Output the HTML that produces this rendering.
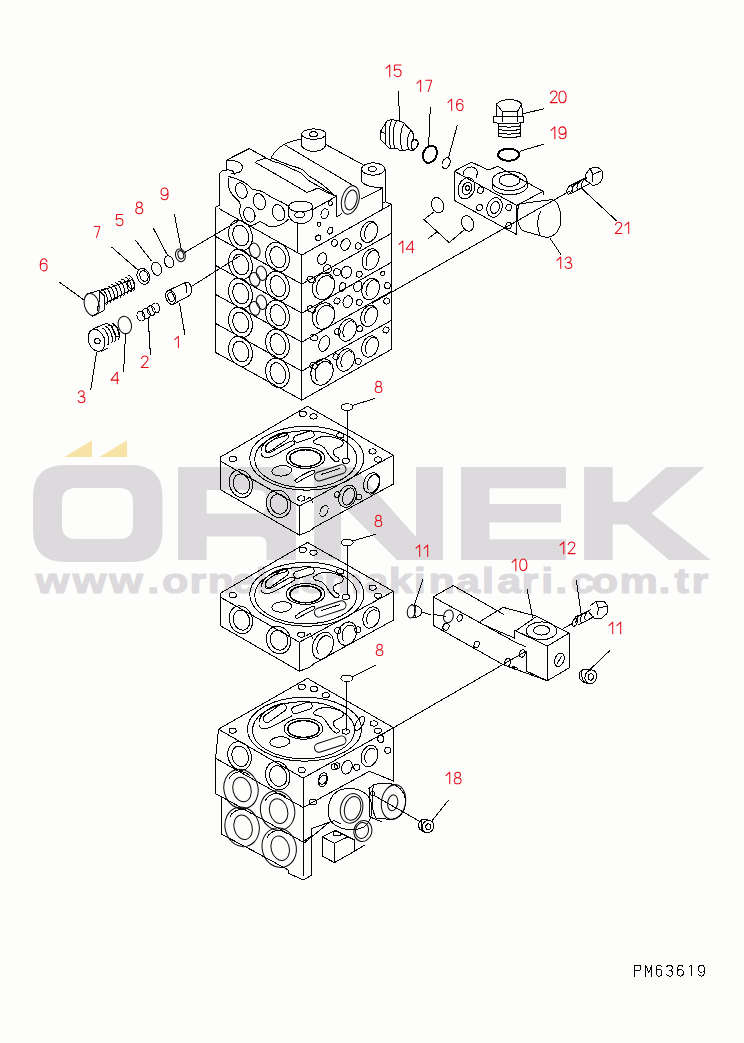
<!DOCTYPE html>
<html><head><meta charset="utf-8">
<style>
html,body{margin:0;padding:0;background:#fdfefc;}
svg{display:block;}
.lb{font-family:"Liberation Sans",sans-serif;font-size:16px;fill:#e0141e;}
.wm{font-family:"Liberation Sans",sans-serif;font-weight:bold;font-size:34.5px;fill:#dcdadd;stroke:#dcdadd;stroke-width:1.2;}
.d{fill:none;stroke:#000;stroke-width:1;shape-rendering:crispEdges;stroke-linejoin:round;stroke-linecap:round;}
.t{fill:none;stroke:#000;stroke-width:2;}
.lbp{shape-rendering:geometricPrecision;fill:none;stroke:#e30613;stroke-width:1.05;stroke-linecap:round;stroke-linejoin:round;}
.t2{fill:none;stroke:#000;stroke-width:1.5;}
</style></head>
<body>
<svg width="744" height="1043" viewBox="0 0 744 1043">
<!-- watermark -->
<g fill="#dcdadd">
<path fill-rule="evenodd" d="M65,465 H130.5 Q162.5,465 162.5,497 V530 Q162.5,562 130.5,562 H65 Q33,562 33,530 V497 Q33,465 65,465 Z M76,488 H119 Q133,488 133,502 V525 Q133,539 119,539 H76 Q62,539 62,525 V502 Q62,488 76,488 Z"/>
<path fill-rule="evenodd" d="M178,467 H276 Q296,467 296,487 V560 H266.5 V544.5 Q266.5,536.5 258.5,536.5 H206.7 V560 H178 Z M206.7,490 H258 Q266,490 266,498 V505.6 Q266,513.6 258,513.6 H206.7 Z"/>
<path d="M314,467 H354 L416,537 V467 H443 V560 H397 L341,504 V560 H314 Z"/>
<path d="M461,467 H566 V488.3 H489.5 V504 H561 V522.5 H489.5 V539.3 H566 V560 H461 Z"/>
<path d="M584.1,467 H612.7 V501.8 H627.5 L666.4,467 H704.7 L651.7,513.5 L710.7,560 H668.8 L627.5,524.6 H612.7 V560 H584.1 Z"/>
</g>
<g fill="#f7e3a6">
<path d="M64.4,457 L92,440.2 V457 Z"/>
<path d="M99.3,457 L127,440.2 V457 Z"/>
</g>
<g transform="scale(1.25,1)"><text class="wm" x="28.54 58.22 87.5 117.86 129.57 151.53 166.17 185.65 204.59 230.99 240.99 259.13 291.59 310.99 330.99 342.81 364.79 385.63 397.75 417.13 432.91 444.18 456.61 473.41 495.53 526.9 539.54 553.21" y="592.9">www.ornekismakinalari.com.tr</text></g>


<!-- drawing -->
<g class="d" id="drawing">
<!-- /workdir/parts/a_head.py -->
<polyline points="219.1,205.4 219.1,174"/>
<polyline points="226.1,160.3 249.3,148.6 269.4,159.8"/>
<path d="M226.1,160.3 V170 M226.1,160.3 C236,159.5 243,163 242.5,168 C242,172 237,173.5 231,173.2"/>
<path d="M219.4,174.5 C220,171 224,169.8 229,170 C233,170.3 235,172 234,175"/>
<path d="M266.1,158.2 L257.3,160.8 C255,161.5 255.5,163.5 258,163.9 L306.5,192.1 C310,193 314,189 317.7,188.1 L335.5,196.1"/>
<path d="M270.2,160.6 C272,155 276,149 283.9,144.5 C290,141.5 296,140 301.6,138.9"/>
<path d="M272.6,158.2 C278,161 284,163 289,165 C295,167 300,168 303,170 C306,172 308,176 312,178 C318,181 326,187 335.5,196.1"/>
<path d="M270.2,160.6 C276,162 281,163.5 286,166 C292,169 297,171 300,172.5 C303,174 305,177 308,180 C314,184 324,189 332,194"/>
<polyline points="285.5,145.3 354.8,186.5"/>
<polyline points="325.8,144.5 362.9,164.7"/>
<ellipse cx="313.8" cy="134.1" rx="12.1" ry="5.2"/>
<ellipse cx="313.5" cy="134.2" rx="4" ry="2.4"/>
<path d="M301.7,134.1 V146 C304,150 310,151.5 314,151.3 C319,151.2 324,149 325.9,145.5 V134.1"/>
<ellipse cx="373.1" cy="169" rx="11.5" ry="6.2"/>
<ellipse cx="372.3" cy="169" rx="4" ry="2.4"/>
<path d="M361.6,169 V181.5 C364,185 372,187.5 382.7,187.9 M385.3,169 V201.7"/>
<polyline points="385.3,201.7 391.3,204.4"/>
<polyline points="382.5,188.5 382.5,209.8"/>
<polyline points="382.5,203.5 385.3,201.7"/>
<path d="M336.8,195.2 V217 L341.6,213.7"/>
<ellipse cx="350.3" cy="200" rx="8.6" ry="14.5" transform="rotate(15 350.3 200)"/>
<ellipse cx="351" cy="200" rx="5.8" ry="10.2" transform="rotate(15 351 200)"/>
<polyline points="312.6,209.7 336.8,196"/>
<polyline points="361,199.2 382.7,187.9"/>
<polyline points="297.4,222.2 297.4,253"/>
<ellipse cx="324.7" cy="213.7" rx="3.5" ry="5" transform="rotate(20 324.7 213.7)"/>
<ellipse cx="330.3" cy="203.2" rx="2" ry="2.4"/>
<ellipse cx="319" cy="224.2" rx="2" ry="2.2"/>
<ellipse cx="330.3" cy="230.6" rx="2.5" ry="3.5" transform="rotate(20 330.3 230.6)"/>
<ellipse cx="318.2" cy="237.9" rx="2.5" ry="3"/>
<ellipse cx="300.7" cy="206.5" rx="12" ry="5.5"/>
<path d="M288.7,206.5 V216 C291,221 296,223.5 300.7,223.5 C306,223.5 310.5,221 312.7,216 V206.5"/>
<ellipse cx="299.7" cy="214.8" rx="5" ry="3"/>
<ellipse cx="241.3" cy="190.6" rx="5.6" ry="8" transform="rotate(-20 241.3 190.6)"/>
<ellipse cx="259.4" cy="201.7" rx="5.8" ry="8.2" transform="rotate(-20 259.4 201.7)"/>
<ellipse cx="278.5" cy="212.7" rx="6" ry="8.3" transform="rotate(-20 278.5 212.7)"/>
<ellipse cx="249.3" cy="214.8" rx="5.5" ry="7.5" transform="rotate(-20 249.3 214.8)"/>
<path d="M228.1,176.5 C232,177 235,178 238.2,179.5 C242,181 245,182.5 247.3,184.5 C250,187 251,189 253.3,189.6 C257,190 260,190.5 262.4,191.6 C266,193.5 268,195.5 270.5,196.6 C273,198 274.5,199 276.5,199.6 C280,201 283,202.5 288.7,206.5"/>
<path d="M228.1,178.5 C228,182 228.5,186 229.2,188.5 C230.5,193 233,196 236.2,198.6 C238.5,200.5 240,202 240.2,204.7 C240,208 239.5,212 240.2,214.8 C241,218 242.5,220.5 244.3,222.8 C248,226 253,226 257,223 C260,221 262,221.5 264,223.5 C268,227 274,227.5 279,225.5 C283,224 286,222 288.7,219"/>
<!-- /workdir/parts/a_stack.py -->
<polyline points="219.1,208.70000000000002 301.8,255.1 391.3,204.4"/>
<polyline points="215.5,236.4 301.8,284.1 391.3,233.4"/>
<polyline points="215.5,265.4 301.8,313.1 391.3,262.4"/>
<polyline points="215.5,294.4 301.8,342.1 391.3,291.4"/>
<polyline points="215.5,323.4 301.8,371.1 391.3,320.4"/>
<polyline points="215.5,352.4 301.8,400.1 391.3,349.4"/>
<polyline points="215.5,207.4 215.5,352.4"/>
<polyline points="301.8,255.1 301.8,400.1"/>
<polyline points="391.3,204.4 391.3,349.4"/>
<polyline points="215.5,207.4 219.1,205.4"/>
<ellipse cx="240.5" cy="235.2" rx="11.5" ry="15.5" transform="rotate(-18 240.5 235.2)"/>
<ellipse cx="240.8" cy="235.5" rx="7.8" ry="10.5" transform="rotate(-18 240.8 235.5)"/>
<ellipse cx="277.5" cy="257.0" rx="11.5" ry="15" transform="rotate(-18 277.5 257.0)"/>
<ellipse cx="277.8" cy="257.3" rx="7.5" ry="10.8" transform="rotate(-18 277.8 257.3)"/>
<ellipse cx="240.5" cy="264.2" rx="11.5" ry="15.5" transform="rotate(-18 240.5 264.2)"/>
<ellipse cx="240.8" cy="264.5" rx="7.8" ry="10.5" transform="rotate(-18 240.8 264.5)"/>
<ellipse cx="277.5" cy="286.0" rx="11.5" ry="15" transform="rotate(-18 277.5 286.0)"/>
<ellipse cx="277.8" cy="286.3" rx="7.5" ry="10.8" transform="rotate(-18 277.8 286.3)"/>
<ellipse cx="240.5" cy="293.2" rx="11.5" ry="15.5" transform="rotate(-18 240.5 293.2)"/>
<ellipse cx="240.8" cy="293.5" rx="7.8" ry="10.5" transform="rotate(-18 240.8 293.5)"/>
<ellipse cx="277.5" cy="315.0" rx="11.5" ry="15" transform="rotate(-18 277.5 315.0)"/>
<ellipse cx="277.8" cy="315.3" rx="7.5" ry="10.8" transform="rotate(-18 277.8 315.3)"/>
<ellipse cx="240.5" cy="322.2" rx="11.5" ry="15.5" transform="rotate(-18 240.5 322.2)"/>
<ellipse cx="240.8" cy="322.5" rx="7.8" ry="10.5" transform="rotate(-18 240.8 322.5)"/>
<ellipse cx="277.5" cy="344.0" rx="11.5" ry="15" transform="rotate(-18 277.5 344.0)"/>
<ellipse cx="277.8" cy="344.3" rx="7.5" ry="10.8" transform="rotate(-18 277.8 344.3)"/>
<ellipse cx="240.5" cy="351.2" rx="11.5" ry="15.5" transform="rotate(-18 240.5 351.2)"/>
<ellipse cx="240.8" cy="351.5" rx="7.8" ry="10.5" transform="rotate(-18 240.8 351.5)"/>
<ellipse cx="277.5" cy="373.0" rx="11.5" ry="15" transform="rotate(-18 277.5 373.0)"/>
<ellipse cx="277.8" cy="373.3" rx="7.5" ry="10.8" transform="rotate(-18 277.8 373.3)"/>
<ellipse cx="254.7" cy="250.4" rx="5.2" ry="7.5" transform="rotate(-15 254.7 250.4)"/>
<ellipse cx="254.7" cy="279.4" rx="5" ry="7" transform="rotate(-15 254.7 279.4)"/>
<ellipse cx="261.5" cy="273.3" rx="5" ry="7.3" transform="rotate(-15 261.5 273.3)"/>
<ellipse cx="254.7" cy="308.4" rx="5" ry="7" transform="rotate(-15 254.7 308.4)"/>
<ellipse cx="261.5" cy="302.3" rx="5" ry="7.3" transform="rotate(-15 261.5 302.3)"/>
<ellipse cx="369.1" cy="231.8" rx="8" ry="11" transform="rotate(22 369.1 231.8)"/>
<polyline points="365.69,238.44 365.07,237.37 364.67,236.06 364.49,234.57 364.55,232.96 364.85,231.28 365.36,229.61 366.07,227.99 366.96,226.51 367.99,225.21 369.12,224.14 370.3,223.35 371.5,222.87 372.66,222.7 373.75,222.87 374.71,223.37 375.51,224.16"/>
<ellipse cx="370.6" cy="259.4" rx="8" ry="11" transform="rotate(22 370.6 259.4)"/>
<polyline points="367.19,266.04 366.57,264.97 366.17,263.66 365.99,262.17 366.05,260.56 366.35,258.88 366.86,257.21 367.57,255.59 368.46,254.11 369.49,252.81 370.62,251.74 371.8,250.95 373.0,250.47 374.16,250.3 375.25,250.47 376.21,250.97 377.01,251.76"/>
<ellipse cx="370.6" cy="289" rx="8.5" ry="11" transform="rotate(22 370.6 289)"/>
<polyline points="367.19,295.64 366.57,294.57 366.17,293.26 365.99,291.77 366.05,290.16 366.35,288.48 366.86,286.81 367.57,285.19 368.46,283.71 369.49,282.41 370.62,281.34 371.8,280.55 373.0,280.07 374.16,279.9 375.25,280.07 376.21,280.57 377.01,281.36"/>
<ellipse cx="369.2" cy="316" rx="8" ry="11" transform="rotate(22 369.2 316)"/>
<polyline points="365.79,322.64 365.17,321.57 364.77,320.26 364.59,318.77 364.65,317.16 364.95,315.48 365.46,313.81 366.17,312.19 367.06,310.71 368.09,309.41 369.22,308.34 370.4,307.55 371.6,307.07 372.76,306.9 373.85,307.07 374.81,307.57 375.61,308.36"/>
<ellipse cx="370" cy="346.5" rx="8" ry="11" transform="rotate(22 370 346.5)"/>
<polyline points="366.59,353.14 365.97,352.07 365.57,350.76 365.39,349.27 365.45,347.66 365.75,345.98 366.26,344.31 366.97,342.69 367.86,341.21 368.89,339.91 370.02,338.84 371.2,338.05 372.4,337.57 373.56,337.4 374.65,337.57 375.61,338.07 376.41,338.86"/>
<ellipse cx="347.5" cy="330" rx="8.5" ry="11.5" transform="rotate(22 347.5 330)"/>
<polyline points="344.09,336.64 343.47,335.57 343.07,334.26 342.89,332.77 342.95,331.16 343.25,329.48 343.76,327.81 344.47,326.19 345.36,324.71 346.39,323.41 347.52,322.34 348.7,321.55 349.9,321.07 351.06,320.9 352.15,321.07 353.11,321.57 353.91,322.36"/>
<ellipse cx="345.5" cy="360" rx="8.5" ry="11.5" transform="rotate(22 345.5 360)"/>
<polyline points="342.09,366.64 341.47,365.57 341.07,364.26 340.89,362.77 340.95,361.16 341.25,359.48 341.76,357.81 342.47,356.19 343.36,354.71 344.39,353.41 345.52,352.34 346.7,351.55 347.9,351.07 349.06,350.9 350.15,351.07 351.11,351.57 351.91,352.36"/>
<ellipse cx="323.5" cy="286.3" rx="10.8" ry="13.5" transform="rotate(22 323.5 286.3)"/>
<polyline points="318.59,294.86 317.68,293.56 317.02,292.01 316.63,290.28 316.52,288.4 316.7,286.46 317.15,284.51 317.88,282.62 318.84,280.85 320.02,279.27 321.36,277.93 322.83,276.87 324.37,276.13 325.93,275.74 327.46,275.7 328.9,276.02 330.22,276.69 331.35,277.68 332.28,278.97"/>
<ellipse cx="323.5" cy="316" rx="10.8" ry="13.5" transform="rotate(22 323.5 316)"/>
<polyline points="318.59,324.56 317.68,323.26 317.02,321.71 316.63,319.98 316.52,318.1 316.7,316.16 317.15,314.21 317.88,312.32 318.84,310.55 320.02,308.97 321.36,307.63 322.83,306.57 324.37,305.83 325.93,305.44 327.46,305.4 328.9,305.72 330.22,306.39 331.35,307.38 332.28,308.67"/>
<ellipse cx="322" cy="372" rx="10.8" ry="13.5" transform="rotate(22 322 372)"/>
<polyline points="317.09,380.56 316.18,379.26 315.52,377.71 315.13,375.98 315.02,374.1 315.2,372.16 315.65,370.21 316.38,368.32 317.34,366.55 318.52,364.97 319.86,363.63 321.33,362.57 322.87,361.83 324.43,361.44 325.96,361.4 327.4,361.72 328.72,362.39 329.85,363.38 330.78,364.67"/>
<ellipse cx="334.5" cy="243" rx="3" ry="3.3" transform="rotate(20 334.5 243)"/>
<ellipse cx="345.5" cy="244.5" rx="4.5" ry="6" transform="rotate(20 345.5 244.5)"/>
<ellipse cx="358.2" cy="246" rx="3" ry="3.2" transform="rotate(20 358.2 246)"/>
<ellipse cx="322.2" cy="258.7" rx="4.4" ry="6" transform="rotate(20 322.2 258.7)"/>
<ellipse cx="327.6" cy="268.8" rx="4" ry="4" transform="rotate(20 327.6 268.8)"/>
<ellipse cx="337" cy="272.2" rx="3.5" ry="3.5" transform="rotate(20 337 272.2)"/>
<ellipse cx="346.4" cy="272.2" rx="5" ry="6" transform="rotate(20 346.4 272.2)"/>
<ellipse cx="359.2" cy="274.2" rx="3" ry="3" transform="rotate(20 359.2 274.2)"/>
<ellipse cx="382.7" cy="273.5" rx="2" ry="2.2" transform="rotate(20 382.7 273.5)"/>
<ellipse cx="387.4" cy="285.6" rx="3" ry="3" transform="rotate(20 387.4 285.6)"/>
<ellipse cx="311.4" cy="279.6" rx="4.5" ry="3" transform="rotate(20 311.4 279.6)"/>
<ellipse cx="342.4" cy="287" rx="3" ry="4.5" transform="rotate(20 342.4 287)"/>
<ellipse cx="357.8" cy="286.3" rx="4" ry="5.5" transform="rotate(20 357.8 286.3)"/>
<ellipse cx="337" cy="301" rx="3" ry="3" transform="rotate(20 337 301)"/>
<ellipse cx="347.7" cy="301.7" rx="4.5" ry="6" transform="rotate(20 347.7 301.7)"/>
<ellipse cx="359.2" cy="302.4" rx="3" ry="3" transform="rotate(20 359.2 302.4)"/>
<ellipse cx="386.7" cy="301" rx="3" ry="3" transform="rotate(20 386.7 301)"/>
<ellipse cx="311.4" cy="309.1" rx="4.5" ry="3" transform="rotate(20 311.4 309.1)"/>
<ellipse cx="337.5" cy="331.8" rx="3" ry="3" transform="rotate(20 337.5 331.8)"/>
<ellipse cx="324.2" cy="343.6" rx="5" ry="8" transform="rotate(20 324.2 343.6)"/>
<ellipse cx="313.8" cy="337.7" rx="4" ry="3" transform="rotate(20 313.8 337.7)"/>
<ellipse cx="359.7" cy="328.8" rx="3" ry="3" transform="rotate(20 359.7 328.8)"/>
<ellipse cx="313.8" cy="365.8" rx="4" ry="3" transform="rotate(20 313.8 365.8)"/>
<ellipse cx="336" cy="356.9" rx="3" ry="3" transform="rotate(20 336 356.9)"/>
<ellipse cx="358.2" cy="361.3" rx="3" ry="3" transform="rotate(20 358.2 361.3)"/>
<ellipse cx="386" cy="330" rx="3" ry="3" transform="rotate(20 386 330)"/>
<!-- /workdir/parts/b_left.py -->
<polyline points="174.4,214.3 181.2,248.9"/>
<polyline points="153.4,228.4 167.5,255.3"/>
<polyline points="135.3,240 151.4,261"/>
<polyline points="111.9,247.3 137.7,269.8"/>
<polyline points="59.7,282.4 83.6,299.7"/>
<polyline points="185,335.4 179.6,303.2"/>
<polyline points="150.4,355 148.2,317.7"/>
<polyline points="123.6,371.5 125.6,333"/>
<polyline points="90.8,389.5 96.5,352.4"/>
<ellipse cx="180.4" cy="255.3" rx="4.8" ry="6.5" transform="rotate(-15 180.4 255.3)"/>
<ellipse cx="180.8" cy="254.8" rx="2.8" ry="4.2" transform="rotate(-15 180.8 254.8)"/>
<polyline points="185.3,252.1 238.6,220.8"/>
<ellipse cx="169.1" cy="261.8" rx="4.5" ry="6.1" transform="rotate(-20 169.1 261.8)"/>
<ellipse cx="156.5" cy="268.7" rx="4.8" ry="6.8" transform="rotate(-20 156.5 268.7)"/>
<ellipse cx="143.3" cy="276.3" rx="6.1" ry="8.1" transform="rotate(-20 143.3 276.3)"/>
<ellipse cx="144" cy="276" rx="4" ry="5.5" transform="rotate(-20 144 276)"/>
<ellipse cx="91.7" cy="304.5" rx="7.3" ry="11.3" transform="rotate(-15 91.7 304.5)"/>
<polyline points="86,294.3 99,290.5 104.5,296 105,306 103.8,310.5 92.5,316"/>
<polyline points="99,290.5 99.5,300 97,311"/>
<polyline points="101,290.8 132.8,279.5"/>
<polyline points="104.8,303.5 133.6,288.6"/>
<polyline points="101.4,289.86 102.4,289.89 103.55,290.62 104.75,291.97 105.88,293.82 106.82,295.97 107.48,298.23 107.81,300.37 107.76,302.17 107.34,303.48 106.6,304.14"/>
<polyline points="104.8,288.11 105.8,288.14 106.95,288.87 108.15,290.22 109.28,292.07 110.22,294.22 110.88,296.48 111.21,298.62 111.16,300.42 110.74,301.73 110.0,302.39"/>
<polyline points="108.2,286.36 109.2,286.39 110.35,287.12 111.55,288.47 112.68,290.32 113.62,292.47 114.28,294.73 114.61,296.87 114.56,298.67 114.14,299.98 113.4,300.64"/>
<polyline points="111.6,284.61 112.6,284.64 113.75,285.37 114.95,286.72 116.08,288.57 117.02,290.72 117.68,292.98 118.01,295.12 117.96,296.92 117.54,298.23 116.8,298.89"/>
<polyline points="115.0,282.86 116.0,282.89 117.15,283.62 118.35,284.97 119.48,286.82 120.42,288.97 121.08,291.23 121.41,293.37 121.36,295.17 120.94,296.48 120.2,297.14"/>
<polyline points="118.4,281.11 119.4,281.14 120.55,281.87 121.75,283.22 122.88,285.07 123.82,287.22 124.48,289.48 124.81,291.62 124.76,293.42 124.34,294.73 123.6,295.39"/>
<polyline points="121.8,279.36 122.8,279.39 123.95,280.12 125.15,281.47 126.28,283.32 127.22,285.47 127.88,287.73 128.21,289.87 128.16,291.67 127.74,292.98 127.0,293.64"/>
<polyline points="125.2,277.61 126.2,277.64 127.35,278.37 128.55,279.72 129.68,281.57 130.62,283.72 131.28,285.98 131.61,288.12 131.56,289.92 131.14,291.23 130.4,291.89"/>
<polyline points="128.6,275.86 129.6,275.89 130.75,276.62 131.95,277.97 133.08,279.82 134.02,281.97 134.68,284.23 135.01,286.37 134.96,288.17 134.54,289.48 133.8,290.14"/>
<ellipse cx="130.8" cy="283.8" rx="3.2" ry="5" transform="rotate(-20 130.8 283.8)"/>
<ellipse cx="170.7" cy="297.3" rx="4.8" ry="7.3" transform="rotate(-20 170.7 297.3)"/>
<ellipse cx="171" cy="297" rx="3" ry="4.8" transform="rotate(-20 171 297)"/>
<polyline points="168.3,290.5 184.5,282.8"/>
<polyline points="173.5,304.2 188.6,296"/>
<path d="M184.5,282.8 C188,281 191,284 191.5,288.5 C192,293 190,296 188.6,296"/>
<path d="M184.5,282.8 C186,284 187.5,289 186.5,293"/>
<polyline points="190.9,286.8 240,255.8"/>
<ellipse cx="140.9" cy="316.1" rx="3.8" ry="5" transform="rotate(-20 140.9 316.1)"/>
<ellipse cx="146.2" cy="313.5" rx="3.8" ry="5" transform="rotate(-20 146.2 313.5)"/>
<ellipse cx="151.2" cy="310.7" rx="3.8" ry="5" transform="rotate(-20 151.2 310.7)"/>
<ellipse cx="155.8" cy="307.9" rx="3.8" ry="5" transform="rotate(-20 155.8 307.9)"/>
<ellipse cx="124.8" cy="325" rx="6.6" ry="8.9" transform="rotate(-15 124.8 325)"/>
<ellipse cx="96.5" cy="340.3" rx="8" ry="11.3" transform="rotate(-20 96.5 340.3)"/>
<ellipse cx="97.4" cy="341.1" rx="2.8" ry="2.6"/>
<polyline points="92,329.5 103,324.5"/>
<polyline points="101,351.5 108,348"/>
<path d="M103,324.5 C108,322.5 112,325 113,329"/>
<polyline points="102.09,328.51 103.11,328.59 104.31,329.43 105.57,330.98 106.78,333.06 107.82,335.47 108.58,337.99 108.99,340.36 109.01,342.36 108.64,343.78 107.91,344.49"/>
<polyline points="105.49,326.91 106.51,326.99 107.71,327.83 108.97,329.38 110.18,331.46 111.22,333.87 111.98,336.39 112.39,338.76 112.41,340.76 112.04,342.18 111.31,342.89"/>
<polyline points="108.89,325.31 109.91,325.39 111.11,326.23 112.37,327.78 113.58,329.86 114.62,332.27 115.38,334.79 115.79,337.16 115.81,339.16 115.44,340.58 114.71,341.29"/>
<polyline points="112.29,323.71 113.31,323.79 114.51,324.63 115.77,326.18 116.98,328.26 118.02,330.67 118.78,333.19 119.19,335.56 119.21,337.56 118.84,338.98 118.11,339.69"/>
<ellipse cx="116" cy="331" rx="2.5" ry="6" transform="rotate(-20 116 331)"/>
<!-- /workdir/parts/c_topright.py -->
<polyline points="398.4,91.5 399.6,120.3"/>
<polyline points="430.3,107.7 428.7,144.7"/>
<polyline points="457.2,125.5 448.4,158"/>
<polyline points="523.4,113.6 543.5,108.9"/>
<polyline points="520,151.2 543.5,144.2"/>
<polyline points="582,188.7 616.6,220.9"/>
<polygon points="380.4,131.5 387.1,120.8 392.5,119.1 395.2,120.4 399.2,121.1 404.6,123.1 406.3,126.1 411.3,130.2 413.3,134.2 413.3,138.9 417.3,140.9 418.7,143.6 416.7,147.6 413.3,150.3 410,150 406.6,149.7 405.2,150.3 399.2,150.3 397.2,148.3 389.8,148.6 385.8,145 380.4,139.6"/>
<polyline points="380.4,131.5 385.1,133.5 385.8,145"/>
<path d="M387.1,120.8 C385,124 385,129 385.1,133.5"/>
<path d="M392.5,119.1 C389,124 388.5,138 390.5,148.6"/>
<path d="M396.5,120.7 C392.5,127 392,141 395,148.5"/>
<path d="M404.6,123.1 C400,129 399.5,143 402.5,150.3"/>
<path d="M411.3,130.2 C407,135 406.5,145 409,150"/>
<path d="M413.3,138.9 C410.8,141 410.5,147 412.5,150.3"/>
<ellipse cx="414.5" cy="144.2" rx="3.2" ry="5" transform="rotate(20 414.5 144.2)"/>
<ellipse cx="429.9" cy="154.3" rx="6.7" ry="8.9" transform="rotate(25 429.9 154.3)" class="t"/>
<ellipse cx="446.1" cy="163.2" rx="3.7" ry="5.6" transform="rotate(25 446.1 163.2)"/>
<path d="M496.4,116.2 V104 C500,100.5 505,99.6 509.5,99.6 C514,99.6 519,100.5 521.7,104 L522.6,116.2"/>
<polyline points="496.4,104 502.5,111.8 517.3,111.8 521.7,104"/>
<polyline points="502.5,111.8 502.5,121.5"/>
<polyline points="517.3,111.8 517.3,121.5"/>
<path d="M493.7,116.2 H523.4 V122.5 C515,124 501,124 493.7,122.5 Z"/>
<polyline points="498.1,123 498.1,137"/>
<polyline points="520.8,123 520.8,137"/>
<path d="M498.1,125.8 C504,127.3 514,127.3 520.8,125.8"/>
<path d="M498.1,129.3 C504,130.8 514,130.8 520.8,129.3"/>
<path d="M498.1,132.8 C504,134.3 514,134.3 520.8,132.8"/>
<path d="M498.1,136.3 C504,137.8 514,137.8 520.8,136.3"/>
<ellipse cx="508.6" cy="154.7" rx="10.5" ry="6.1" class="t"/>
<polyline points="586,174 590,168.5 597,167 602,170.5 603,177 599.5,183.5 593,185.5 588,182"/>
<polyline points="590,168.5 593,174.5 592.5,181.5"/>
<polyline points="593,174.5 602,170.5"/>
<path d="M586,174 C584,177 585,181 588,182"/>
<polyline points="568.5,186.5 586.5,177.5"/>
<polyline points="571,193.5 589,184"/>
<polyline points="573.39,192.53 572.85,192.09 572.49,191.38 572.34,190.43 572.4,189.31 572.68,188.11 573.14,186.9 573.77,185.77 574.52,184.78 575.33,184.02 576.15,183.53 576.93,183.34 577.61,183.47"/>
<polyline points="577.99,190.03 577.45,189.59 577.09,188.88 576.94,187.93 577.0,186.81 577.28,185.61 577.74,184.4 578.37,183.27 579.12,182.28 579.93,181.52 580.75,181.03 581.53,180.84 582.21,180.97"/>
<polyline points="582.59,187.53 582.05,187.09 581.69,186.38 581.54,185.43 581.6,184.31 581.88,183.11 582.34,181.9 582.97,180.77 583.72,179.78 584.53,179.02 585.35,178.53 586.13,178.34 586.81,178.47"/>
<ellipse cx="569.6" cy="190" rx="2.3" ry="4.3" transform="rotate(25 569.6 190)"/>
<polyline points="569,191.5 372,303.3"/>
<polyline points="454.3,171.2 471.4,162.1 486.5,169.2 491,169.2 497.6,166.1 502.7,169.2"/>
<polyline points="454.3,171.2 516.8,205.4 543,191.3 543,195"/>
<polyline points="454.3,171.2 454.3,200.4 516.8,234.7 516.8,205.4"/>
<polyline points="502.7,169.2 543,191.3"/>
<path d="M463,175.5 C463,168 470,166 474,167.5 C477,169 478,173 476,178"/>
<ellipse cx="509.5" cy="180.9" rx="17.5" ry="9.6"/>
<ellipse cx="509.5" cy="180.3" rx="10.5" ry="6.1"/>
<path d="M492,180.9 V187.9 C496,193 503,194.8 509.5,194.8 C516,194.8 523,193 527,187.9 V180.9"/>
<ellipse cx="466.4" cy="188.3" rx="8" ry="11" transform="rotate(20 466.4 188.3)"/>
<ellipse cx="467" cy="188.5" rx="4.5" ry="6.5" transform="rotate(20 467 188.5)"/>
<ellipse cx="467.5" cy="188" rx="1.8" ry="2.5"/>
<ellipse cx="494.6" cy="207.5" rx="7.5" ry="10" transform="rotate(20 494.6 207.5)"/>
<ellipse cx="495" cy="207.5" rx="4.2" ry="6.2" transform="rotate(20 495 207.5)"/>
<ellipse cx="480.5" cy="190.3" rx="2.8" ry="3.3" transform="rotate(20 480.5 190.3)"/>
<ellipse cx="479.5" cy="207.5" rx="2.8" ry="3.3" transform="rotate(20 479.5 207.5)"/>
<ellipse cx="508.7" cy="207.5" rx="2.8" ry="3.3" transform="rotate(20 508.7 207.5)"/>
<ellipse cx="508.7" cy="225.6" rx="2.8" ry="3.3" transform="rotate(20 508.7 225.6)"/>
<polyline points="519.5,203.8 551.7,199.6"/>
<polyline points="522.2,230.6 546.3,237.4"/>
<path d="M551.7,199.6 C557,200 561,209 561,218.6 C561,228 556,237 546.3,237.4"/>
<path d="M541,211 C537,217 537,228 539.5,234"/>
<path d="M519.5,203.8 C516,212 516.5,224 522.2,230.6"/>
<polyline points="549.9,238 560.6,254.2"/>
<ellipse cx="437.6" cy="205.2" rx="5.8" ry="8" transform="rotate(-20 437.6 205.2)"/>
<ellipse cx="467.6" cy="223.4" rx="5.8" ry="8" transform="rotate(-20 467.6 223.4)"/>
<polyline points="433.1,212.5 424,219.6 449.2,242.7 464.4,229.6"/>
<polyline points="428.1,238.7 437.1,231.7"/>
<!-- /workdir/parts/d_plates.py -->
<polyline points="220.3,457.2 307.5,406.3 393.4,455.2 299.4,506.1 220.8,461.3 220.3,457.2"/>
<polyline points="220.3,457.2 220.3,489.6"/>
<polyline points="220.3,489.6 299.4,535.1 310,531 314,527.6 393.4,484"/>
<polyline points="393.4,455.2 393.4,484"/>
<polyline points="299.4,506.1 299.4,535.1"/>
<path d="M249.8,458.2 A57,32 0 0 1 363.8,458.2 A57,32 0 0 1 249.8,458.2"/>
<ellipse cx="305.8" cy="459.2" rx="51" ry="28.5"/>
<ellipse cx="305.5" cy="458.2" rx="15.7" ry="8.5" class="t2"/>
<ellipse cx="305.5" cy="457.9" rx="19.4" ry="10.5"/>
<rect x="263.44671109562586" y="438.2" width="26.606577808748213" height="7.6" rx="3.8" transform="rotate(-35.36246188706905 276.75 442.0)"/>
<path d="M284,432.3 C273,435 262,442 261,451 C260,459 268,459 277,454 C284,450 290,447 294,444.5 C296,442 293,440 290,441.5 C285,444 278,448 272,451.5 C267,454 264.5,452 265.5,448 C267,442 276,438 284.5,436 C288,435 288,431.5 284,432.3 Z"/>
<rect x="293.5536506078056" y="433.04999999999995" width="20.892698784388713" height="7.2" rx="3.6" transform="rotate(-18.302626241748225 304.0 436.65)"/>
<path d="M313.5,441 C317,438 321,436.5 324,436.1 C330,436 337,438 341.8,440.2 C344,442 344,445 341,446.5 C337,448 333,449 333.2,452 C333.5,455 336,457 338.5,457.9 C340,459.5 339,462 336.5,461.9 C333,461 331,458 327.3,452.3 C325,448 323,446 320,445 C317,444.8 313,443.5 313.5,441 Z"/>
<rect x="313.9227010691367" y="468.35" width="32.654597861726586" height="9.0" rx="4.5" transform="rotate(-17.975366865392072 330.25 472.85)"/>
<path d="M321,474.5 L340,468.5"/>
<ellipse cx="281.8" cy="470.8" rx="10" ry="5.2" transform="rotate(-5 281.8 470.8)"/>
<path d="M296,479.5 C300,476 306,473 312,470.5 C315,469.5 316,472 313,474 C309,476 303,479 298,482 C295,482.5 294,481 296,479.5 Z"/>
<ellipse cx="302.7" cy="413.8" rx="3.6" ry="2.6"/>
<ellipse cx="313.5" cy="416.5" rx="3.6" ry="2.6"/>
<ellipse cx="232.8" cy="459" rx="3.6" ry="2.6"/>
<ellipse cx="372.6" cy="451.5" rx="3.6" ry="2.6"/>
<ellipse cx="378" cy="459.5" rx="3.6" ry="2.6"/>
<ellipse cx="301.4" cy="498.5" rx="3.6" ry="2.6"/>
<ellipse cx="340.4" cy="435.3" rx="3.6" ry="2.6"/>
<ellipse cx="345.8" cy="460.9" rx="3.6" ry="2.6"/>
<ellipse cx="240.9" cy="483.7" rx="11.4" ry="14.1" transform="rotate(-18 240.9 483.7)"/>
<ellipse cx="241.5" cy="484" rx="8" ry="10.2" transform="rotate(-18 241.5 484)"/>
<ellipse cx="278.5" cy="503.9" rx="12" ry="14" transform="rotate(-18 278.5 503.9)"/>
<ellipse cx="279" cy="504" rx="8.5" ry="10.2" transform="rotate(-18 279 504)"/>
<ellipse cx="347.5" cy="496.2" rx="8.5" ry="11.5" transform="rotate(22 347.5 496.2)"/>
<ellipse cx="348.5" cy="496.5" rx="5.5" ry="9" transform="rotate(22 348.5 496.5)"/>
<ellipse cx="337.3" cy="494.7" rx="2.8" ry="3"/>
<ellipse cx="358.8" cy="497" rx="2.8" ry="3"/>
<ellipse cx="371.4" cy="482.9" rx="7.5" ry="10.5" transform="rotate(22 371.4 482.9)"/>
<polyline points="368.26,489.6 367.56,488.4 367.13,486.93 366.99,485.25 367.15,483.46 367.61,481.63 368.34,479.88 369.3,478.27 370.44,476.89 371.72,475.82 373.06,475.1 374.39,474.77 375.66,474.85 376.79,475.34 377.74,476.2"/>
<polyline points="378.3,475.04 379.23,477.01 379.77,479.24 379.88,481.63 379.55,484.07 378.81,486.46 377.68,488.69 376.22,490.68 374.48,492.32 372.55,493.55 370.51,494.31"/>
<ellipse cx="324" cy="511" rx="3.5" ry="6" transform="rotate(25 324 511)"/>
<path d="M306,500 L310,497 L313,503"/>
<polyline points="220.3,593.3 307.5,542.4 393.4,591.3 299.4,642.2 220.8,597.4 220.3,593.3"/>
<polyline points="220.3,593.3 220.3,625.7"/>
<polyline points="220.3,625.7 299.4,671.2 310,667.1 314,663.7 393.4,620.1"/>
<polyline points="393.4,591.3 393.4,620.1"/>
<polyline points="299.4,642.2 299.4,671.2"/>
<path d="M249.8,594.3 A57,32 0 0 1 363.8,594.3 A57,32 0 0 1 249.8,594.3"/>
<ellipse cx="305.8" cy="595.3" rx="51" ry="28.5"/>
<ellipse cx="305.5" cy="594.3" rx="15.7" ry="8.5" class="t2"/>
<ellipse cx="305.5" cy="594.0" rx="19.4" ry="10.5"/>
<rect x="263.44671109562586" y="574.3000000000001" width="26.606577808748213" height="7.6" rx="3.8" transform="rotate(-35.36246188706905 276.75 578.1)"/>
<path d="M284,568.4 C273,571.1 262,578.1 261,587.1 C260,595.1 268,595.1 277,590.1 C284,586.1 290,583.1 294,580.6 C296,578.1 293,576.1 290,577.6 C285,580.1 278,584.1 272,587.6 C267,590.1 264.5,588.1 265.5,584.1 C267,578.1 276,574.1 284.5,572.1 C288,571.1 288,567.6 284,568.4 Z"/>
<rect x="293.55365060780565" y="569.15" width="20.892698784388696" height="7.2" rx="3.6" transform="rotate(-18.302626241748 304.0 572.75)"/>
<path d="M313.5,577.1 C317,574.1 321,572.6 324,572.2 C330,572.1 337,574.1 341.8,576.3 C344,578.1 344,581.1 341,582.6 C337,584.1 333,585.1 333.2,588.1 C333.5,591.1 336,593.1 338.5,594.0 C340,595.6 339,598.1 336.5,598.0 C333,597.1 331,594.1 327.3,588.4 C325,584.1 323,582.1 320,581.1 C317,580.9 313,579.6 313.5,577.1 Z"/>
<rect x="313.9227010691367" y="604.45" width="32.65459786172661" height="9.0" rx="4.5" transform="rotate(-17.9753668653922 330.25 608.95)"/>
<path d="M321,610.6 L340,604.6"/>
<ellipse cx="281.8" cy="606.9" rx="10" ry="5.2" transform="rotate(-5 281.8 606.9)"/>
<path d="M296,615.6 C300,612.1 306,609.1 312,606.6 C315,605.6 316,608.1 313,610.1 C309,612.1 303,615.1 298,618.1 C295,618.6 294,617.1 296,615.6 Z"/>
<ellipse cx="302.7" cy="549.9" rx="3.6" ry="2.6"/>
<ellipse cx="313.5" cy="552.6" rx="3.6" ry="2.6"/>
<ellipse cx="232.8" cy="595.1" rx="3.6" ry="2.6"/>
<ellipse cx="372.6" cy="587.6" rx="3.6" ry="2.6"/>
<ellipse cx="378" cy="595.6" rx="3.6" ry="2.6"/>
<ellipse cx="301.4" cy="634.6" rx="3.6" ry="2.6"/>
<ellipse cx="340.4" cy="571.4" rx="3.6" ry="2.6"/>
<ellipse cx="345.8" cy="597.0" rx="3.6" ry="2.6"/>
<ellipse cx="240.9" cy="619.8" rx="11.4" ry="14.1" transform="rotate(-18 240.9 619.8)"/>
<ellipse cx="241.5" cy="620.1" rx="8" ry="10.2" transform="rotate(-18 241.5 620.1)"/>
<ellipse cx="278.5" cy="640.0" rx="12" ry="14" transform="rotate(-18 278.5 640.0)"/>
<ellipse cx="279" cy="640.1" rx="8.5" ry="10.2" transform="rotate(-18 279 640.1)"/>
<ellipse cx="322.9" cy="645.7" rx="10" ry="14" transform="rotate(22 322.9 645.7)"/>
<polyline points="318.58,653.95 317.67,652.46 317.11,650.62 316.91,648.54 317.09,646.31 317.65,644.06 318.55,641.89 319.75,639.91 321.18,638.22 322.78,636.9 324.47,636.03 326.16,635.64 327.77,635.75 329.21,636.37 330.42,637.45"/>
<ellipse cx="347.1" cy="633.6" rx="9" ry="12" transform="rotate(22 347.1 633.6)"/>
<polyline points="343.43,640.67 342.65,639.39 342.16,637.82 342.0,636.03 342.15,634.13 342.63,632.19 343.4,630.33 344.43,628.63 345.66,627.18 347.03,626.06 348.48,625.31 349.92,624.97 351.3,625.07 352.54,625.6 353.57,626.53"/>
<ellipse cx="371.3" cy="617.5" rx="8" ry="11" transform="rotate(22 371.3 617.5)"/>
<polyline points="367.94,623.77 367.22,622.61 366.76,621.2 366.59,619.61 366.71,617.91 367.13,616.19 367.81,614.53 368.73,613.03 369.84,611.74 371.08,610.75 372.4,610.1 373.72,609.81 374.97,609.91 376.11,610.4 377.06,611.23"/>
<ellipse cx="337.7" cy="630.6" rx="3" ry="3"/>
<ellipse cx="357.8" cy="629.9" rx="3" ry="3"/>
<path d="M306,636.1 L310,633.1 L313,639.1"/>
<ellipse cx="347.1" cy="407.1" rx="6" ry="3.3"/>
<polyline points="352.5,405.5 374.5,398.5"/>
<polyline points="347.1,410.4 347.1,458"/>
<ellipse cx="347.1" cy="542.5" rx="6" ry="3.3"/>
<polyline points="352.5,541 375.3,534.4"/>
<polyline points="347.1,545.8 347.1,594"/>
<!-- /workdir/parts/e_part10.py -->
<polyline points="422.6,580 414.5,605"/>
<polyline points="527.1,588.9 532.7,617.1"/>
<polyline points="576.3,580 581.1,613.9"/>
<polyline points="609.4,651 589.2,670.3"/>
<polyline points="433.1,596.9 453.2,585.6 504,614.5"/>
<polyline points="433.1,596.9 515.8,642.5"/>
<polyline points="433.1,596.9 433.1,625.2 503.2,664.7 547.3,680.8"/>
<polyline points="480.6,621.1 503.2,607.4 536.8,616.3"/>
<polyline points="480.6,621.1 480.6,623.5 514.5,638.1 514.5,630.5 515.8,630.8"/>
<polyline points="515.8,630.8 536.8,616.3 569,633.2 547.3,646.1 515.8,630.8"/>
<polyline points="547.3,646.1 547.3,680.8 569,667.9 569,633.2"/>
<polyline points="526.3,651 526.3,671.1 547.3,680.8"/>
<polyline points="515.8,642.5 526.3,647"/>
<ellipse cx="541.6" cy="630.8" rx="15.3" ry="8.9"/>
<ellipse cx="541.6" cy="630.3" rx="8" ry="4.8"/>
<ellipse cx="559.4" cy="659.8" rx="4.5" ry="7" transform="rotate(20 559.4 659.8)"/>
<path d="M557.5,663 L561.5,656.5"/>
<ellipse cx="522.3" cy="653.4" rx="2.8" ry="3.8" transform="rotate(20 522.3 653.4)"/>
<ellipse cx="507.7" cy="662.3" rx="3" ry="3.8" transform="rotate(20 507.7 662.3)"/>
<path d="M512,666 L514.5,670 L518,668.5 Z"/>
<ellipse cx="448.4" cy="616.3" rx="4.8" ry="6.5" transform="rotate(15 448.4 616.3)"/>
<ellipse cx="459.7" cy="617.9" rx="2.5" ry="3.5" transform="rotate(20 459.7 617.9)"/>
<ellipse cx="446" cy="626.8" rx="3" ry="3.5" transform="rotate(20 446 626.8)"/>
<ellipse cx="476.6" cy="644.5" rx="2.5" ry="3.5" transform="rotate(20 476.6 644.5)"/>
<ellipse cx="411.3" cy="611.5" rx="4" ry="6.5" transform="rotate(10 411.3 611.5)"/>
<path d="M411.3,605 C416,604.5 420,607 421.5,610 C422.5,614 420,617.5 412,618"/>
<path d="M416,606 C414,609 414,615 416,617.5"/>
<polyline points="422.6,612.3 430.6,614.7"/>
<polyline points="434.7,614.7 445.2,616.3"/>
<polyline points="590,606 596,601.5 604,601 607.7,606 607,613.5 601,618.7 594,618 589.5,613"/>
<polyline points="596,601.5 598.5,608 597.5,615"/>
<polyline points="598.5,608 607.7,606"/>
<polyline points="575.5,617 591,609.5"/>
<polyline points="578,625 593.5,617"/>
<polyline points="576.97,624.35 576.45,623.93 576.11,623.24 575.96,622.33 576.02,621.26 576.29,620.11 576.73,618.94 577.34,617.85 578.05,616.91 578.83,616.18 579.62,615.7 580.37,615.52 581.03,615.65"/>
<polyline points="581.37,622.05 580.85,621.63 580.51,620.94 580.36,620.03 580.42,618.96 580.69,617.81 581.13,616.64 581.74,615.55 582.45,614.61 583.23,613.88 584.02,613.4 584.77,613.22 585.43,613.35"/>
<polyline points="585.77,619.75 585.25,619.33 584.91,618.64 584.76,617.73 584.82,616.66 585.09,615.51 585.53,614.34 586.14,613.25 586.85,612.31 587.63,611.58 588.42,611.1 589.17,610.92 589.83,611.05"/>
<ellipse cx="575" cy="622.2" rx="2.3" ry="4.3" transform="rotate(25 575 622.2)"/>
<polyline points="572.3,623.5 563.4,628.5"/>
<polyline points="526.3,651 490,672"/>
<polyline points="490,672 381,735"/>
<ellipse cx="590.8" cy="676.8" rx="5.8" ry="7" transform="rotate(20 590.8 676.8)"/>
<ellipse cx="590.8" cy="677" rx="2.6" ry="3.2"/>
<path d="M590,669.8 C585,668 580,670 579,674 C578.5,678 581,682 588,683.5"/>
<path d="M583,669 C581,672 581,678 584,681.5"/>
<!-- /workdir/parts/f_bottom.py -->
<polygon points="218.5,729.2 307.4,678.3 393.5,727.7 303.1,778.1"/>
<polyline points="218.5,729.2 215.6,758.3"/>
<polyline points="303.1,778.1 303.1,876"/>
<polyline points="215.6,758.3 303.1,807.5"/>
<polyline points="393.5,727.7 393.5,781"/>
<polyline points="303.1,807.5 369.4,771.3 393.5,781"/>
<ellipse cx="304.5" cy="729.2" rx="57" ry="32"/>
<ellipse cx="303.5" cy="730.2" rx="51" ry="28.5"/>
<ellipse cx="303.5" cy="729" rx="15.7" ry="8.5" class="t2"/>
<ellipse cx="303.5" cy="728.7" rx="19.4" ry="10.5"/>
<rect x="261.44671109562586" y="709.4000000000001" width="26.606577808748213" height="7.6" rx="3.8" transform="rotate(-35.36246188706905 274.75 713.2)"/>
<path d="M282,703.5 C271,706.2 260,713.2 259,722.2 C258,730.2 266,730.2 275,725.2 C282,721.2 288,718.2 292,715.7"/>
<rect x="291.55365060780565" y="704.25" width="20.892698784388696" height="7.2" rx="3.6" transform="rotate(-18.302626241748 302.0 707.85)"/>
<path d="M313.5,712.2 C317,709.2 321,707.7 324,707.3 C330,707.2 337,709.2 341.8,711.4 C344,713.2 344,716.2 341,717.7 C337,719.2 333,720.2 333.2,723.2 C333.5,726.2 336,728.2 338.5,729.1 C340,730.7 339,733.2 336.5,733.1 C333,732.2 331,729.2 327.3,723.5 C325,719.2 323,717.2 320,716.2 C317,716.0 313,714.7 313.5,712.2 Z"/>
<rect x="313.9227010691367" y="739.55" width="32.65459786172661" height="9.0" rx="4.5" transform="rotate(-17.9753668653922 330.25 744.05)"/>
<ellipse cx="279.8" cy="742.0" rx="10" ry="5.2" transform="rotate(-5 279.8 742.0)"/>
<ellipse cx="359.6" cy="723.5" rx="3.5" ry="8" transform="rotate(30 359.6 723.5)"/>
<ellipse cx="301.7" cy="686.8" rx="3.6" ry="2.6"/>
<ellipse cx="313.9" cy="689" rx="3.6" ry="2.6"/>
<ellipse cx="325.7" cy="695.3" rx="3.6" ry="2.6"/>
<ellipse cx="232.6" cy="730.6" rx="3.6" ry="2.6"/>
<ellipse cx="373.7" cy="723.5" rx="3.6" ry="2.6"/>
<ellipse cx="377.9" cy="730.6" rx="3.6" ry="2.6"/>
<ellipse cx="301.7" cy="770.1" rx="3.6" ry="2.6"/>
<ellipse cx="345.8" cy="731.5" rx="3.6" ry="2.6"/>
<ellipse cx="239.6" cy="756" rx="11.5" ry="14.5" transform="rotate(-18 239.6 756)"/>
<ellipse cx="240.2" cy="756.3" rx="8" ry="10.5" transform="rotate(-18 240.2 756.3)"/>
<ellipse cx="277.7" cy="775.7" rx="12" ry="14.5" transform="rotate(-18 277.7 775.7)"/>
<ellipse cx="278.2" cy="776" rx="8.5" ry="10.5" transform="rotate(-18 278.2 776)"/>
<ellipse cx="346.9" cy="767.3" rx="5" ry="7" transform="rotate(20 346.9 767.3)"/>
<ellipse cx="369.5" cy="756" rx="8" ry="11" transform="rotate(20 369.5 756)"/>
<polyline points="366.16,762.42 365.4,761.29 364.89,759.9 364.66,758.31 364.73,756.61 365.08,754.88 365.71,753.2 366.58,751.66 367.64,750.34 368.85,749.3 370.14,748.6 371.45,748.27 372.71,748.33 373.86,748.77 374.84,749.58"/>
<ellipse cx="337" cy="765.8" rx="3" ry="3"/>
<ellipse cx="356.8" cy="767.3" rx="3" ry="3"/>
<ellipse cx="387.8" cy="750.3" rx="3" ry="3"/>
<ellipse cx="380.8" cy="739" rx="3" ry="3.5"/>
<ellipse cx="322.9" cy="778.5" rx="4" ry="6" transform="rotate(20 322.9 778.5)"/>
<polyline points="215.6,758.3 215.6,793.7 221.1,796.5 221.1,834 253.4,851 288.9,870.3 288.9,873.5 303.4,880 311.5,875.2"/>
<ellipse cx="241" cy="789" rx="17" ry="20" transform="rotate(-15 241 789)"/>
<polyline points="229.03,778.46 230.79,775.99 232.97,774.01 235.47,772.61 238.21,771.83 241.07,771.72 243.95,772.27 246.73,773.47 249.32,775.26"/>
<ellipse cx="242" cy="789.5" rx="9" ry="12.5" transform="rotate(-15 242 789.5)"/>
<ellipse cx="277.6" cy="810.6" rx="17" ry="20" transform="rotate(-15 277.6 810.6)"/>
<polyline points="265.63,800.06 267.39,797.59 269.57,795.61 272.07,794.21 274.81,793.43 277.67,793.32 280.55,793.87 283.33,795.07 285.92,796.86"/>
<ellipse cx="278.6" cy="811.1" rx="9" ry="12.5" transform="rotate(-15 278.6 811.1)"/>
<ellipse cx="242.1" cy="826.8" rx="17" ry="20" transform="rotate(-15 242.1 826.8)"/>
<polyline points="230.13,816.26 231.89,813.79 234.07,811.81 236.57,810.41 239.31,809.63 242.17,809.52 245.05,810.07 247.83,811.27 250.42,813.06"/>
<ellipse cx="243.1" cy="827.3" rx="9" ry="12.5" transform="rotate(-15 243.1 827.3)"/>
<ellipse cx="279.2" cy="847.7" rx="17" ry="20" transform="rotate(-15 279.2 847.7)"/>
<polyline points="267.23,837.16 268.99,834.69 271.17,832.71 273.67,831.31 276.41,830.53 279.27,830.42 282.15,830.97 284.93,832.17 287.52,833.96"/>
<ellipse cx="280.2" cy="848.2" rx="9" ry="12.5" transform="rotate(-15 280.2 848.2)"/>
<polyline points="221.1,796.5 303.1,842"/>
<path d="M330.6,821 C326,812 328,795 340,790 C352,786 368,790 371,802 C373,812 371,822 364,827 C354,832 338,830 330.6,821 Z"/>
<ellipse cx="352.6" cy="808.4" rx="8" ry="12" transform="rotate(15 352.6 808.4)"/>
<ellipse cx="351.6" cy="808.4" rx="11" ry="15" transform="rotate(15 351.6 808.4)"/>
<ellipse cx="362.9" cy="831" rx="9" ry="10.5" transform="rotate(15 362.9 831)"/>
<ellipse cx="362" cy="830.5" rx="6.5" ry="8" transform="rotate(15 362 830.5)"/>
<polyline points="303.1,843.9 330.6,821.3"/>
<polyline points="322.3,836.8 335.2,830.3 348,836.8 334.4,843.2 322.3,836.8"/>
<polyline points="322.3,836.8 322.3,856.1 334.4,862.6 354.5,851.3 354.5,840 348,836.8"/>
<polyline points="334.4,843.2 334.4,862.6"/>
<path d="M333,832.5 C335,831 340,831.5 341.6,834 C340.5,836 336,836.5 333,835.5 Z"/>
<polyline points="311,828.7 334.4,820.6 341,824"/>
<polyline points="311,828.7 311,875.5"/>
<polyline points="303.1,841.6 312.4,835.5"/>
<polyline points="354.5,851.3 365,845"/>
<polyline points="369,788.5 369,816.5 382,822"/>
<polyline points="369,788.5 374.2,784.2 386,783.5"/>
<path d="M386,783.5 C397,783 405.5,791 405.5,801.9 C405.5,812 399,820 388,819.5 L382.3,818"/>
<ellipse cx="393.5" cy="802" rx="12" ry="17.5" transform="rotate(10 393.5 802)"/>
<ellipse cx="392.7" cy="802.8" rx="5" ry="8" transform="rotate(10 392.7 802.8)"/>
<path d="M374.2,784.2 C371,792 371,810 376,818"/>
<polyline points="376,818 382.3,818"/>
<ellipse cx="372.5" cy="793.5" rx="1.8" ry="2.5"/>
<ellipse cx="322.9" cy="781" rx="4" ry="6" transform="rotate(20 322.9 781)"/>
<ellipse cx="334.2" cy="766.8" rx="3" ry="3"/>
<ellipse cx="313" cy="802.1" rx="4" ry="2.8"/>
<polyline points="372.6,794.7 420.5,821.8"/>
<polyline points="448.4,800.3 431,822.1"/>
<ellipse cx="428" cy="826.5" rx="5.5" ry="6.5" transform="rotate(20 428 826.5)"/>
<ellipse cx="428.2" cy="826.8" rx="2.4" ry="3"/>
<path d="M427.5,820 C423,818.5 419,820.5 418.5,824 C418,828 420,831 426,832.8"/>
<path d="M422,819.5 C420.5,822 420.5,828 423,831.5"/>
<ellipse cx="346.9" cy="678.3" rx="6" ry="3.3"/>
<polyline points="352.3,676.8 375.1,665.6"/>
<polyline points="346.9,681.6 346.9,730.6"/>
<!-- /workdir/parts/z_labels.py -->
<path class="lbp" transform="translate(386.00,65.00) scale(0.992)" d="M0,3.4 L3.8,0 V11.8"/>
<path class="lbp" transform="translate(393.96,65.00) scale(0.992)" d="M7,0.1 H0.7 L0.3,5.6 C1.2,4.7 2.4,4.3 3.6,4.3 C5.8,4.3 7.2,5.8 7.2,7.9 C7.2,10.3 5.7,11.8 3.6,11.8 C2.1,11.8 0.9,11.1 0.2,9.7"/>
<path class="lbp" transform="translate(417.00,80.20) scale(0.966)" d="M0,3.4 L3.8,0 V11.8"/>
<path class="lbp" transform="translate(425.62,80.20) scale(0.966)" d="M0.2,0.1 H6.3 L2.6,11.8"/>
<path class="lbp" transform="translate(448.00,99.20) scale(0.966)" d="M0,3.4 L3.8,0 V11.8"/>
<path class="lbp" transform="translate(456.34,99.20) scale(0.966)" d="M6.8,2.6 C6.2,1 5,0 3.6,0 C1.4,0 0.2,2.6 0.2,6.2 C0.2,9.6 1.6,11.8 3.6,11.8 C5.6,11.8 7,10.2 7,8.1 C7,5.9 5.6,4.4 3.6,4.4 C1.9,4.4 0.6,5.4 0.2,6.8"/>
<path class="lbp" transform="translate(550.00,91.00) scale(1.000)" d="M0.4,2.6 C1,0.9 2.2,0 3.8,0 C5.7,0 7,1.3 7,3.1 C7,5 5.4,6.4 0.2,11.6 H7.3"/>
<path class="lbp" transform="translate(558.80,91.00) scale(1.000)" d="M3.7,0 C1.5,0 0.1,2.6 0.1,5.9 C0.1,9.2 1.5,11.8 3.7,11.8 C5.9,11.8 7.3,9.2 7.3,5.9 C7.3,2.6 5.9,0 3.7,0 Z"/>
<path class="lbp" transform="translate(551.00,126.90) scale(1.008)" d="M0,3.4 L3.8,0 V11.8"/>
<path class="lbp" transform="translate(558.84,126.90) scale(1.008)" d="M7.1,4.2 C6.8,6 5.4,7.4 3.6,7.4 C1.5,7.4 0.1,5.9 0.1,3.7 C0.1,1.5 1.5,0 3.6,0 C5.8,0 7.1,1.8 7.1,5 V7.6 C7.1,10.3 5.6,11.8 3.6,11.8 C2.1,11.8 0.9,11.1 0.3,9.8"/>
<path class="lbp" transform="translate(615.00,222.20) scale(0.966)" d="M0.4,2.6 C1,0.9 2.2,0 3.8,0 C5.7,0 7,1.3 7,3.1 C7,5 5.4,6.4 0.2,11.6 H7.3"/>
<path class="lbp" transform="translate(625.03,222.20) scale(0.966)" d="M0,3.4 L3.8,0 V11.8"/>
<path class="lbp" transform="translate(557.00,257.00) scale(0.983)" d="M0,3.4 L3.8,0 V11.8"/>
<path class="lbp" transform="translate(564.82,257.00) scale(0.983)" d="M0.5,2.4 C1.1,0.9 2.3,0 3.6,0 C5.2,0 6.3,1.1 6.3,2.7 C6.3,4.5 5,5.5 2.6,5.5 M2.6,5.5 C5.5,5.5 7.1,6.8 7.1,8.5 C7.1,10.5 5.6,11.8 3.6,11.8 C2.1,11.8 0.9,11.1 0.3,9.6"/>
<path class="lbp" transform="translate(399.00,241.00) scale(1.000)" d="M0,3.4 L3.8,0 V11.8"/>
<path class="lbp" transform="translate(406.00,241.00) scale(1.000)" d="M6.4,11.8 V0 L0.1,8.2 H7.9"/>
<path class="lbp" transform="translate(160.90,188.00) scale(1.000)" d="M7.1,4.2 C6.8,6 5.4,7.4 3.6,7.4 C1.5,7.4 0.1,5.9 0.1,3.7 C0.1,1.5 1.5,0 3.6,0 C5.8,0 7.1,1.8 7.1,5 V7.6 C7.1,10.3 5.6,11.8 3.6,11.8 C2.1,11.8 0.9,11.1 0.3,9.8"/>
<path class="lbp" transform="translate(135.70,201.90) scale(1.000)" d="M3.6,5.6 C1.9,5.6 0.8,4.5 0.8,2.8 C0.8,1.1 1.9,0 3.6,0 C5.3,0 6.4,1.1 6.4,2.8 C6.4,4.5 5.3,5.6 3.6,5.6 C1.6,5.6 0.1,6.7 0.1,8.6 C0.1,10.5 1.6,11.8 3.6,11.8 C5.6,11.8 7.1,10.5 7.1,8.6 C7.1,6.7 5.6,5.6 3.6,5.6 Z"/>
<path class="lbp" transform="translate(116.00,214.30) scale(0.966)" d="M7,0.1 H0.7 L0.3,5.6 C1.2,4.7 2.4,4.3 3.6,4.3 C5.8,4.3 7.2,5.8 7.2,7.9 C7.2,10.3 5.7,11.8 3.6,11.8 C2.1,11.8 0.9,11.1 0.2,9.7"/>
<path class="lbp" transform="translate(94.00,226.30) scale(0.949)" d="M0.2,0.1 H6.3 L2.6,11.8"/>
<path class="lbp" transform="translate(40.00,258.80) scale(1.025)" d="M6.8,2.6 C6.2,1 5,0 3.6,0 C1.4,0 0.2,2.6 0.2,6.2 C0.2,9.6 1.6,11.8 3.6,11.8 C5.6,11.8 7,10.2 7,8.1 C7,5.9 5.6,4.4 3.6,4.4 C1.9,4.4 0.6,5.4 0.2,6.8"/>
<path class="lbp" transform="translate(174.70,336.30) scale(0.966)" d="M0,3.4 L3.8,0 V11.8"/>
<path class="lbp" transform="translate(141.00,356.00) scale(0.992)" d="M0.4,2.6 C1,0.9 2.2,0 3.8,0 C5.7,0 7,1.3 7,3.1 C7,5 5.4,6.4 0.2,11.6 H7.3"/>
<path class="lbp" transform="translate(110.90,372.00) scale(0.992)" d="M6.4,11.8 V0 L0.1,8.2 H7.9"/>
<path class="lbp" transform="translate(77.80,390.80) scale(1.008)" d="M0.5,2.4 C1.1,0.9 2.3,0 3.6,0 C5.2,0 6.3,1.1 6.3,2.7 C6.3,4.5 5,5.5 2.6,5.5 M2.6,5.5 C5.5,5.5 7.1,6.8 7.1,8.5 C7.1,10.5 5.6,11.8 3.6,11.8 C2.1,11.8 0.9,11.1 0.3,9.6"/>
<path class="lbp" transform="translate(375.10,381.20) scale(0.958)" d="M3.6,5.6 C1.9,5.6 0.8,4.5 0.8,2.8 C0.8,1.1 1.9,0 3.6,0 C5.3,0 6.4,1.1 6.4,2.8 C6.4,4.5 5.3,5.6 3.6,5.6 C1.6,5.6 0.1,6.7 0.1,8.6 C0.1,10.5 1.6,11.8 3.6,11.8 C5.6,11.8 7.1,10.5 7.1,8.6 C7.1,6.7 5.6,5.6 3.6,5.6 Z"/>
<path class="lbp" transform="translate(375.00,515.20) scale(0.958)" d="M3.6,5.6 C1.9,5.6 0.8,4.5 0.8,2.8 C0.8,1.1 1.9,0 3.6,0 C5.3,0 6.4,1.1 6.4,2.8 C6.4,4.5 5.3,5.6 3.6,5.6 C1.6,5.6 0.1,6.7 0.1,8.6 C0.1,10.5 1.6,11.8 3.6,11.8 C5.6,11.8 7.1,10.5 7.1,8.6 C7.1,6.7 5.6,5.6 3.6,5.6 Z"/>
<path class="lbp" transform="translate(376.10,644.30) scale(0.958)" d="M3.6,5.6 C1.9,5.6 0.8,4.5 0.8,2.8 C0.8,1.1 1.9,0 3.6,0 C5.3,0 6.4,1.1 6.4,2.8 C6.4,4.5 5.3,5.6 3.6,5.6 C1.6,5.6 0.1,6.7 0.1,8.6 C0.1,10.5 1.6,11.8 3.6,11.8 C5.6,11.8 7.1,10.5 7.1,8.6 C7.1,6.7 5.6,5.6 3.6,5.6 Z"/>
<path class="lbp" transform="translate(416.00,545.00) scale(0.975)" d="M0,3.4 L3.8,0 V11.8"/>
<path class="lbp" transform="translate(424.00,545.00) scale(0.975)" d="M0,3.4 L3.8,0 V11.8"/>
<path class="lbp" transform="translate(512.10,559.00) scale(0.992)" d="M0,3.4 L3.8,0 V11.8"/>
<path class="lbp" transform="translate(519.66,559.00) scale(0.992)" d="M3.7,0 C1.5,0 0.1,2.6 0.1,5.9 C0.1,9.2 1.5,11.8 3.7,11.8 C5.9,11.8 7.3,9.2 7.3,5.9 C7.3,2.6 5.9,0 3.7,0 Z"/>
<path class="lbp" transform="translate(560.00,542.00) scale(1.000)" d="M0,3.4 L3.8,0 V11.8"/>
<path class="lbp" transform="translate(567.80,542.00) scale(1.000)" d="M0.4,2.6 C1,0.9 2.2,0 3.8,0 C5.7,0 7,1.3 7,3.1 C7,5 5.4,6.4 0.2,11.6 H7.3"/>
<path class="lbp" transform="translate(609.00,622.20) scale(0.983)" d="M0,3.4 L3.8,0 V11.8"/>
<path class="lbp" transform="translate(616.96,622.20) scale(0.983)" d="M0,3.4 L3.8,0 V11.8"/>
<path class="lbp" transform="translate(446.00,772.20) scale(0.983)" d="M0,3.4 L3.8,0 V11.8"/>
<path class="lbp" transform="translate(454.12,772.20) scale(0.983)" d="M3.6,5.6 C1.9,5.6 0.8,4.5 0.8,2.8 C0.8,1.1 1.9,0 3.6,0 C5.3,0 6.4,1.1 6.4,2.8 C6.4,4.5 5.3,5.6 3.6,5.6 C1.6,5.6 0.1,6.7 0.1,8.6 C0.1,10.5 1.6,11.8 3.6,11.8 C5.6,11.8 7.1,10.5 7.1,8.6 C7.1,6.7 5.6,5.6 3.6,5.6 Z"/>
<path class="d" transform="translate(634.8,965.2)" d="M0,11 V0 H3.5 C5.3,0 6,1.2 6,2.8 C6,4.4 5.3,5.6 3.5,5.6 H0"/>
<path class="d" transform="translate(645.8,965.2)" d="M0,11 V0 L3,7.5 L6,0 V11"/>
<path class="d" transform="translate(656,965.2)" d="M5.6,1.3 C5.2,0.4 4.3,0 3,0 C1,0 0,2 0,5.5 C0,9 1,11 3,11 C5,11 6,9.5 6,7.5 C6,5.5 5,4.3 3,4.3 C1.3,4.3 0.3,5.3 0,6.5"/>
<path class="d" transform="translate(666.6,965.2)" d="M0.2,1.5 C0.7,0.5 1.7,0 3,0 C4.7,0 5.7,1 5.7,2.7 C5.7,4.3 4.6,5.2 2.5,5.2 M2.5,5.2 C4.8,5.2 6,6.3 6,8 C6,9.8 4.8,11 3,11 C1.5,11 0.5,10.4 0,9.3"/>
<path class="d" transform="translate(677.3,965.2)" d="M5.6,1.3 C5.2,0.4 4.3,0 3,0 C1,0 0,2 0,5.5 C0,9 1,11 3,11 C5,11 6,9.5 6,7.5 C6,5.5 5,4.3 3,4.3 C1.3,4.3 0.3,5.3 0,6.5"/>
<path class="d" transform="translate(689,965.2)" d="M0,2 L2,0 V11"/>
<path class="d" transform="translate(698.5,965.2)" d="M6,5.5 C5.7,6.7 4.7,7 3,7 C1,7 0,5.8 0,3.5 C0,1.3 1,0 3,0 C5,0 6,1.5 6,5 C6,8.5 5,11 3,11 C1.7,11 0.8,10.5 0.4,9.6"/>
</g>
</svg>
</body></html>
